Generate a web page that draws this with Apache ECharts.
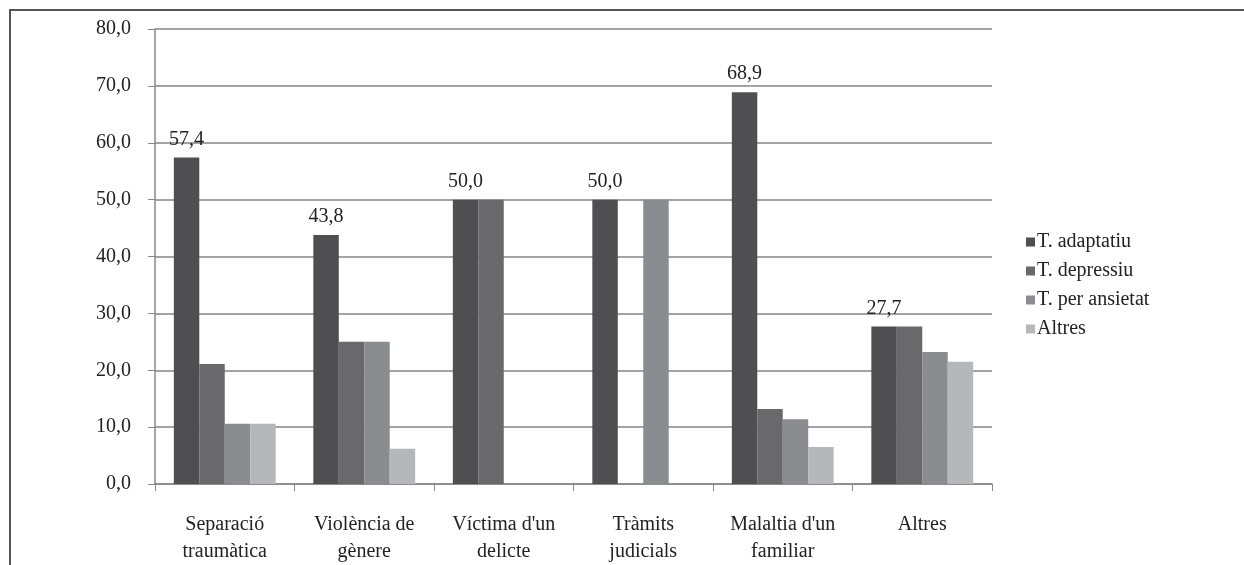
<!DOCTYPE html>
<html><head><meta charset="utf-8">
<script src="https://cdn.jsdelivr.net/npm/echarts@6/dist/echarts.min.js"></script>
<style>html,body{margin:0;padding:0;background:#fff}#c{width:1244px;height:565px}</style>
</head><body><div id="c"></div>
<script>
const categories = ["Separació\ntraumàtica", "Violència de\ngènere", "Víctima d'un\ndelicte", "Tràmits\njudicials", "Malaltia d'un\nfamiliar", "Altres"];
const seriesNames = ["T. adaptatiu", "T. depressiu", "T. per ansietat", "Altres"];
const adaptatiu = [57.4, 43.8, 50.0, 50.0, 68.9, 27.7];
const depressiu = [21.1, 25.0, 50.0, null, 13.2, 27.7];
const ansietat = [10.6, 25.0, null, 50.0, 11.4, 23.2];
const altres = [10.6, 6.2, null, null, 6.5, 21.5];
const yTicks = [0, 10, 20, 30, 40, 50, 60, 70, 80];
const colors = ["#4f4f51", "#69696b", "#8b8c8f", "#b6b7ba"];

const font = "Liberation Serif";
const fmt = v => v.toFixed(1).replace('.', ',');
const values = [adaptatiu, depressiu, ansietat, altres];

const chart = echarts.init(document.getElementById('c'));
chart.setOption({
  animation: false,
  textStyle: { fontFamily: font },
  graphic: [{
    type: 'rect', shape: { x: 10, y: 10, width: 1400, height: 700 },
    style: { fill: 'none', stroke: '#555', lineWidth: 2 }, silent: true
  }],
  grid: { left: 155, right: 252, top: 29, bottom: 78 },
  legend: {
    orient: 'vertical', left: 1021, top: 227, itemWidth: 9, itemHeight: 9, itemGap: 9,
    icon: 'rect',
    textStyle: { fontFamily: font, fontSize: 20, color: '#222', lineHeight: 20, padding: [0, 0, 0, -3] },
    data: seriesNames
  },
  xAxis: {
    type: 'category', data: categories,
    axisLine: { lineStyle: { color: '#888', width: 1.5 } },
    axisTick: { show: true, length: 7, inside: false, lineStyle: { color: '#888' } },
    axisLabel: { fontFamily: font, fontSize: 20, color: '#222', margin: 27, lineHeight: 27, interval: 0 }
  },
  yAxis: {
    type: 'value', min: 0, max: 80, interval: 10,
    axisLine: { show: true, lineStyle: { color: '#888', width: 1.5 } },
    axisTick: { show: true, length: 7, lineStyle: { color: '#888' } },
    splitLine: { lineStyle: { color: '#858585', width: 1.5 } },
    axisLabel: { fontFamily: font, fontSize: 20, color: '#222', margin: 24, formatter: v => fmt(v) }
  },
  series: seriesNames.map((n, i) => ({
    name: n, type: 'bar', data: values[i],
    barGap: '0%', barCategoryGap: '27%',
    itemStyle: { color: colors[i] },
    label: i === 0 ? { show: true, position: 'top', distance: 8, fontFamily: font, fontSize: 20, color: '#222', formatter: p => fmt(p.value) } : { show: false }
  }))
});
</script></body></html>
